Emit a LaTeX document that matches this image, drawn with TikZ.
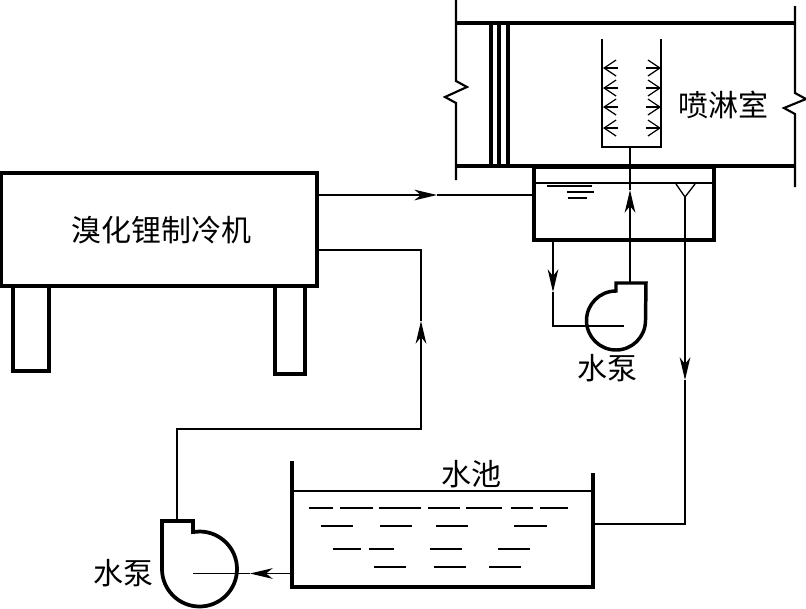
\documentclass[tikz,border=0pt]{standalone}
\usepackage{fontspec}
\setmainfont{Noto Sans CJK SC}
\usetikzlibrary{arrows.meta}
\tikzset{
  x=0.75pt,y=-0.75pt,
  thick line/.style={line width=2.5pt,line cap=butt,line join=miter},
  mid line/.style={line width=1.6pt},
  pipe/.style={line width=1pt},
  dash line/.style={line width=1.1pt},
  flow/.style={pipe,-{Stealth[length=17pt,width=8pt,inset=5pt]}},
  spray/.style={line width=.9pt,-{Straight Barb[length=9pt,width=12pt]}},
  box/.style={draw,line width=2.4pt,inner sep=0pt,outer sep=0pt,anchor=north west},
  label/.style={font=\fontsize{22.5}{24}\selectfont,inner sep=0pt},
}
\begin{document}
\begin{tikzpicture}
\useasboundingbox (0,0) rectangle (806,608);
% duct
\draw[mid line] (456,0)--(456,81)--(467,87)--(445,97)--(456,103)--(456,180);
\draw[mid line] (795,6)--(795,93)--(806,99)--(784,108)--(795,114)--(795,187);
\draw[line width=2.8pt] (456,23)--(795,23);
\draw[line width=2.8pt] (456,166)--(795,166);
\foreach \fx in {491,499,508} \draw[thick line] (\fx,23)--(\fx,166);
% spray header
\coordinate (hdrL) at (602,39);
\coordinate (hdrR) at (661,39);
\coordinate (hdrB) at (630,147);
\draw[line width=1pt] (hdrL)--(602,147)--(661,147)--(hdrR);
\foreach \sy in {68,88,107,128}{
  \draw[spray] (618,\sy)--(603,\sy);
  \draw[spray] (646,\sy)--(661,\sy);
}
% tank
\node[box,minimum width=135pt,minimum height=54.75pt] (tank) at (534,167) {};
\draw[pipe] (534,183)--(714,183);
\draw[line width=1.1pt] (547,186)--(592,186);
\draw[line width=1.1pt] (567,192)--(594,192);
\draw[line width=1.1pt] (568,198)--(587,198);
\coordinate (over) at (685,197);
\draw[pipe] (676,184)--(over)--(695,184);
% chiller
\node[box,minimum width=237pt,minimum height=84.75pt] (chiller) at (1,173) {};
\node[label] (chillerlabel) at (161,230) {溴化锂制冷机};
\node[box,minimum width=27pt,minimum height=63.75pt] (legL) at (13,286) {};
\node[box,minimum width=22.5pt,minimum height=66pt] (legR) at (275,286) {};
\node[label] (spraylabel) at (723,105) {喷淋室};
% pump 1
\draw[line width=2.6pt,line join=miter]
  (646,283)--(616,283)--(616,291) arc[start angle=-90,end angle=-360,radius=29.5]--cycle;
\coordinate (p1top) at (630,283);
\coordinate (p1in) at (624,326);
\node[label] (p1label) at (607,368) {水泵};
% pump 2
\draw[line width=2.8pt,line join=miter]
  (162,521)--(193,521)--(193,532)--(199.5,531.5) arc[start angle=-90,end angle=180,radius=37.5]--cycle;
\coordinate (p2top) at (177,521);
\coordinate (p2in) at (193,573.5);
\node[label] (p2label) at (123,573) {水泵};
% pool
\draw[line width=2.4pt] (292,461)--(292,587)--(593,587)--(593,473);
\draw[line width=1pt] (292,491)--(593,491);
\node[label] (poollabel) at (471,474) {水池};
\foreach \ax/\bx in {309/333,340/373,379/421,428/460,466/502,511/533,540/568}
  \draw[dash line] (\ax,508)--(\bx,508);
\foreach \ax/\bx in {321/353,380/412,436/468,514/547}
  \draw[dash line] (\ax,526)--(\bx,526);
\foreach \ax/\bx in {333/361,369/394,430/462,498/530}
  \draw[dash line] (\ax,549)--(\bx,549);
\foreach \ax/\bx in {374/406,434/466,489/521}
  \draw[dash line] (\ax,567)--(\bx,567);
\coordinate (poolOut) at (593,524);
\coordinate (poolIn) at (292,573.5);
% pipes
\coordinate (t1) at (437,195);
\draw[flow] (chiller.east |- t1)--(t1);
\draw[pipe] (t1)--(tank.west |- t1);
\coordinate (t2) at (630,190);
\coordinate (t2b) at (630,212);
\draw[pipe] (p1top)--(t2b);
\draw[flow] (t2b)--(t2);
\draw[pipe] (t2)--(hdrB);
\coordinate (t3) at (553,292);
\coordinate (tankOut) at (553,240);
\draw[flow] (tankOut)--(t3);
\draw[pipe] (t3)--(553,326)--(p1in);
\coordinate (t4) at (685,380);
\draw[flow] (over)--(t4);
\draw[pipe] (t4)--(685,524)--(poolOut);
\coordinate (t5) at (421,321);
\coordinate (t5b) at (421,345);
\draw[pipe] (p2top)--(177,429)--(421,429)--(t5b);
\draw[flow] (t5b)--(t5);
\draw[pipe] (t5)--(421,250)--(chiller.east |- 0,250);
\coordinate (t6) at (250,573.5);
\draw[flow] (poolIn)--(t6);
\draw[line width=1.3pt] (t6)--(p2in);
\end{tikzpicture}
\end{document}
